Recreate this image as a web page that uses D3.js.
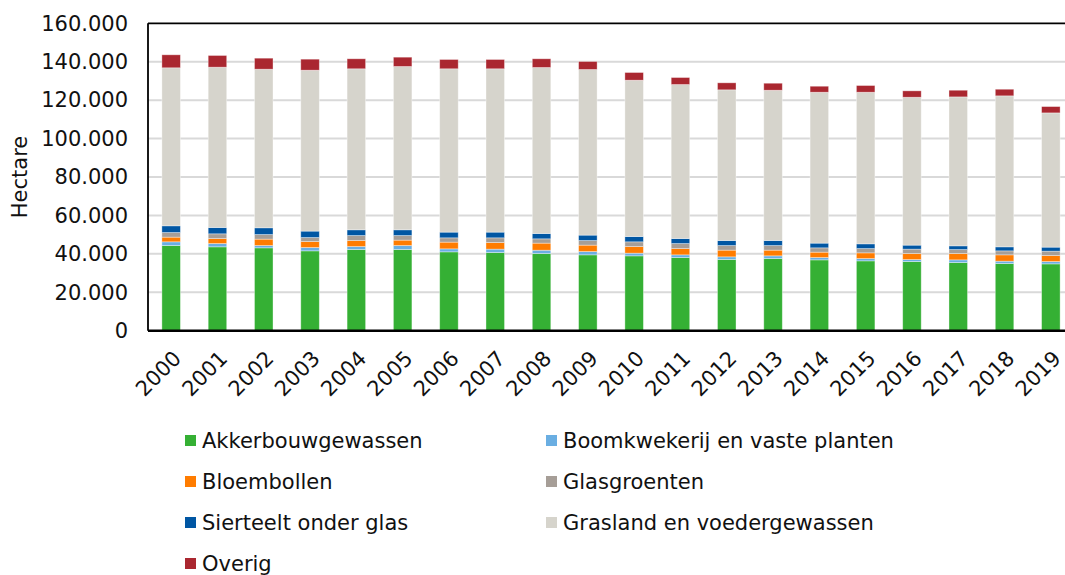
<!DOCTYPE html>
<html>
<head>
<meta charset="utf-8">
<script src="https://cdn.jsdelivr.net/npm/d3@7"></script>
<style>
  html, body { margin: 0; padding: 0; background: #fff; overflow: hidden; }
  svg { display: block; }
  text { font-family: "DejaVu Sans", Verdana, sans-serif; fill: #111; }
</style>
</head>
<body>
<svg id="chart" width="1065" height="575"></svg>
<script>
const years = ["2000","2001","2002","2003","2004","2005","2006","2007","2008","2009","2010","2011","2012","2013","2014","2015","2016","2017","2018","2019"];
const seriesNames = ["Akkerbouwgewassen","Boomkwekerij en vaste planten","Bloembollen","Glasgroenten","Sierteelt onder glas","Grasland en voedergewassen","Overig"];
const akkerbouw    = [44330,43650,43130,41560,42240,42240,41040,40680,40160,39480,38960,38070,37030,37550,36870,36350,35990,35460,34940,34780];
const boomkwekerij = [1930,1720,1200,1730,1570,2090,1560,1770,1740,1720,1400,1410,1410,1410,1200,1200,1040,1410,1250,1210];
const bloembollen  = [2440,2610,3330,3120,3130,2810,3500,3440,3680,3340,3450,3280,3490,2970,2810,2970,3130,3290,3290,3120];
const glasgroenten = [2400,2450,2400,2090,2600,2400,2240,2450,2240,2400,2450,2610,2400,2400,2250,2240,2290,2080,2080,2290];
const sierteelt    = [3500,3290,3500,3340,2980,2980,2970,2970,2780,2810,2760,2610,2610,2610,2450,2450,2090,1930,2090,2090];
const grasland     = [82240,83440,82550,83750,83800,85000,85010,85010,86400,86200,81360,80150,78430,78220,78540,78910,76970,77530,78590,69880];
const overig       = [6760,6090,5740,5740,5210,4850,4850,4850,4530,4170,4010,3650,3650,3650,3130,3490,3330,3460,3440,3290];
const colors = ["#35b034","#6aaee2","#ff7c00","#a69e97","#0056a3","#d6d4cc","#aa2730"];
const yTicks = [0,20000,40000,60000,80000,100000,120000,140000,160000];
const yTitle = "Hectare";

const seriesValues = [akkerbouw, boomkwekerij, bloembollen, glasgroenten, sierteelt, grasland, overig];
const table = years.map((yr, i) => {
  const row = { year: yr };
  seriesNames.forEach((n, k) => row[n] = seriesValues[k][i]);
  return row;
});

const svg = d3.select("#chart");
const pLeft = 148, pTop = 23.3, pBottom = 330.7, pRight = 1074;

const x = d3.scaleBand().domain(years).range([pLeft, pRight]).paddingInner(0.6).paddingOuter(0.3);
const y = d3.scaleLinear().domain([0, 160000]).range([pBottom, pTop]);

// gridlines
svg.append("g").selectAll("line").data(yTicks.slice(1, -1)).join("line")
  .attr("x1", pLeft).attr("x2", pRight)
  .attr("y1", d => y(d)).attr("y2", d => y(d))
  .attr("stroke", "#d9d9d9").attr("stroke-width", 2);

// stacked bars
const stack = d3.stack().keys(seriesNames)(table);
svg.append("g").selectAll("g").data(stack).join("g")
  .attr("fill", (d, i) => colors[i])
  .selectAll("rect").data(d => d).join("rect")
  .attr("x", d => x(d.data.year))
  .attr("width", x.bandwidth())
  .attr("y", d => y(d[1]))
  .attr("height", d => y(d[0]) - y(d[1]))
  .attr("stroke", "rgba(255,255,255,0.45)")
  .attr("stroke-width", 0.8);

// frame
svg.append("line").attr("x1", pLeft).attr("x2", pRight).attr("y1", pTop).attr("y2", pTop)
  .attr("stroke", "#000").attr("stroke-width", 1.8);
svg.append("line").attr("x1", pLeft).attr("x2", pLeft).attr("y1", pTop).attr("y2", pBottom)
  .attr("stroke", "#000").attr("stroke-width", 1.8);

// y axis
const yAxis = d3.axisLeft(y).tickValues(yTicks).tickSize(0).tickPadding(20)
  .tickFormat(d => d3.format(",")(d).replace(/,/g, "."));
const yg = svg.append("g").attr("transform", `translate(${pLeft},0)`).call(yAxis);
yg.select(".domain").remove();
yg.selectAll("text").attr("font-size", 21).attr("font-family", "DejaVu Sans, Verdana, sans-serif").attr("fill", "#111");

// x axis
const xAxis = d3.axisBottom(x).tickSize(0).tickPadding(0);
const xg = svg.append("g").attr("transform", `translate(0,${pBottom})`).call(xAxis);
xg.select(".domain").attr("stroke", "#000").attr("stroke-width", 2.4)
  .attr("d", `M${pLeft},0H${pRight}`);
xg.selectAll("text")
  .attr("font-size", 21).attr("font-family", "DejaVu Sans, Verdana, sans-serif").attr("fill", "#111")
  .attr("text-anchor", "end")
  .attr("dy", null).attr("y", null)
  .attr("transform", d => `translate(${x.bandwidth() / 2 + 2},${29}) rotate(-45)`);

// y title
svg.append("text")
  .attr("transform", `translate(27,${(pTop + pBottom) / 2}) rotate(-90)`)
  .attr("text-anchor", "middle").attr("font-size", 21).text(yTitle);

// legend
const legCols = [185, 546];
const legRows = [448, 489, 530, 571];
const lg = svg.append("g").selectAll("g").data(seriesNames).join("g")
  .attr("transform", (d, i) => `translate(${legCols[i % 2]},${legRows[Math.floor(i / 2)]})`);
lg.append("rect").attr("x", 0).attr("y", -13).attr("width", 11).attr("height", 11)
  .attr("fill", (d, i) => colors[i]);
lg.append("text").attr("x", 17).attr("y", 0).attr("font-size", 21).text(d => d);
</script>
</body>
</html>
